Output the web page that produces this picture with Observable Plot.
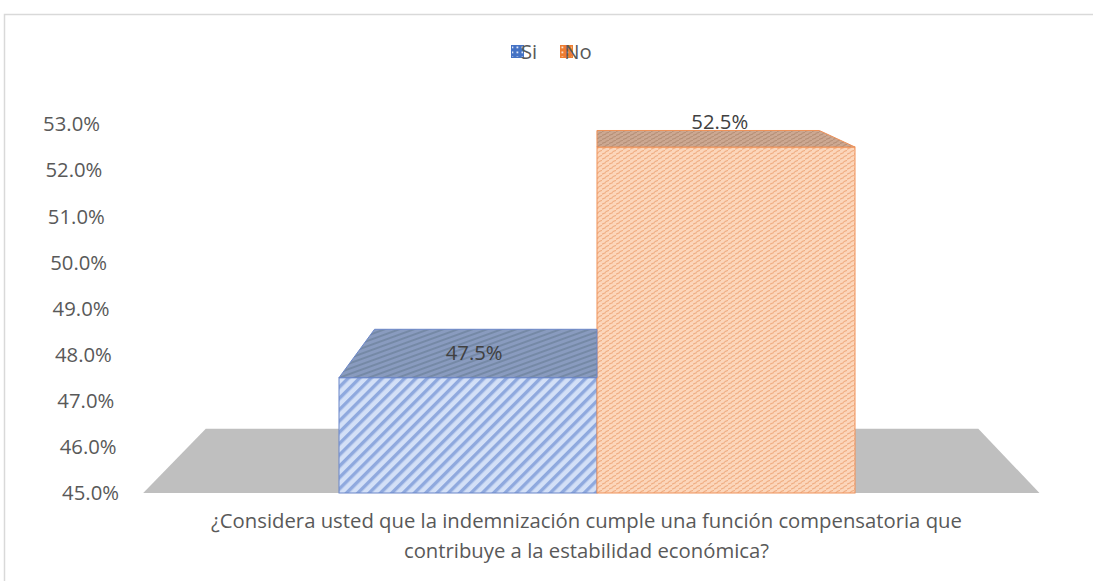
<!DOCTYPE html>
<html><head><meta charset="utf-8">
<script src="https://cdn.jsdelivr.net/npm/d3@7"></script>
<script src="https://cdn.jsdelivr.net/npm/@observablehq/plot@0.6"></script>
<style>html,body{margin:0;padding:0;background:#fff;overflow:hidden;}</style>
</head><body><div id="chart"></div>
<script>
// ---- data ----
const categories = ["Si", "No"];
const values = [47.5, 52.5];
const yDomain = [45, 53];
const yTicks = [45, 46, 47, 48, 49, 50, 51, 52, 53];
const legendLabels = ["Si", "No"];
const captionLines = [
  "¿Considera usted que la indemnización cumple una función compensatoria que",
  "contribuye a la estabilidad económica?"
];

// ---- styles ----
const FONT = "'Open Sans', sans-serif";
const FS = 20.3;
const frontFill = ["url(#siFront)", "url(#noFront)"];
const topFill = ["url(#siTop)", "url(#noTop)"];
const strokes = ["#6a86c8", "#ef9158"];
const legendFill = ["url(#siLeg)", "url(#noLeg)"];
const legendStroke = ["#4472c4", "#ed7d31"];
const ratio = 0.862;      // perspective shrink of back edges
const vpRise = 97;        // vanishing point above top of frame

const data = categories.map((c, i) => ({cat: c, value: values[i], i}));

function defsMark(index, scales, values, dim, ctx) {
  const g = d3.create("svg:g");
  const defs = g.append("defs");
  let p = defs.append("pattern").attr("id", "siFront").attr("patternUnits", "userSpaceOnUse")
    .attr("width", 8).attr("height", 8).attr("patternTransform", "rotate(45)");
  p.append("rect").attr("width", 8).attr("height", 8).attr("fill", "#d3e0f7");
  p.append("rect").attr("width", 3.4).attr("height", 8).attr("fill", "#8fa9de");
  p = defs.append("pattern").attr("id", "siTop").attr("patternUnits", "userSpaceOnUse")
    .attr("width", 5).attr("height", 5).attr("patternTransform", "rotate(70)");
  p.append("rect").attr("width", 5).attr("height", 5).attr("fill", "#899bbf");
  p.append("rect").attr("width", 2).attr("height", 5).attr("fill", "#7589a6");
  p = defs.append("pattern").attr("id", "noFront").attr("patternUnits", "userSpaceOnUse")
    .attr("width", 7).attr("height", 5);
  p.append("rect").attr("width", 7).attr("height", 5).attr("fill", "#fcd6bb");
  p.append("path").attr("d", "M0,4.2 L4,2.6 M3.5,1.7 L7,0.3").attr("stroke", "#f0ad82").attr("stroke-width", 1.1);
  p = defs.append("pattern").attr("id", "noTop").attr("patternUnits", "userSpaceOnUse")
    .attr("width", 7).attr("height", 4);
  p.append("rect").attr("width", 7).attr("height", 4).attr("fill", "#cca892");
  p.append("path").attr("d", "M0,3.4 L4,2 M3.5,1.4 L7,0.2").attr("stroke", "#b58f77").attr("stroke-width", 1.1);
  p = defs.append("pattern").attr("id", "siLeg").attr("patternUnits", "userSpaceOnUse")
    .attr("width", 5).attr("height", 5);
  p.append("rect").attr("width", 5).attr("height", 5).attr("fill", "#4472c4");
  p.append("rect").attr("x", 1.5).attr("y", 1.5).attr("width", 1.8).attr("height", 1.8).attr("fill", "#dfe7f7");
  p = defs.append("pattern").attr("id", "noLeg").attr("patternUnits", "userSpaceOnUse")
    .attr("width", 5).attr("height", 5);
  p.append("rect").attr("width", 5).attr("height", 5).attr("fill", "#ed7d31");
  p.append("rect").attr("x", 1.5).attr("y", 1.5).attr("width", 1.8).attr("height", 1.8).attr("fill", "#fbe3d3");
  g.append("rect").attr("x", 4.5).attr("y", 14.5).attr("width", dim.width + 10).attr("height", dim.height + 10)
    .attr("fill", "none").attr("stroke", "#d9d9d9").attr("stroke-width", 1.5);
  return g.node();
}

function geom(scales, dim) {
  const [r0, r1] = scales.x.range();
  const vx = (r0 + r1) / 2;
  const vy = dim.marginTop - vpRise;
  const proj = (px, py) => [vx + (px - vx) * ratio, vy + (py - vy) * ratio];
  const bw = scales.x.bandwidth ? scales.x.bandwidth() : (r1 - r0) / categories.length;
  return {r0, r1, vx, vy, proj, bw};
}

function floorMark(index, scales, values, dim) {
  const {r0, r1, proj, bw} = geom(scales, dim);
  const yb = scales.y(yDomain[0]);
  const fl = [r0 - bw * 0.755, yb], fr = [r1 + bw * 0.715, yb];
  const pts = [fl, fr, proj(...fr), proj(...fl)];
  const g = d3.create("svg:g");
  g.append("polygon").attr("points", pts.map(p => p.join(",")).join(" ")).attr("fill", "#bfbfbf");
  return g.node();
}

function topsMark(index, scales, values, dim) {
  const {proj, bw} = geom(scales, dim);
  const g = d3.create("svg:g");
  for (const d of data) {
    const xl = scales.x(d.cat), xr = xl + bw, yt = scales.y(d.value);
    const pts = [[xl, yt], [xr, yt], proj(xr, yt), proj(xl, yt)];
    g.append("polygon").attr("points", pts.map(p => p.join(",")).join(" "))
      .attr("fill", topFill[d.i]).attr("stroke", strokes[d.i]).attr("stroke-width", 1);
  }
  for (const d of data) {
    const xl = scales.x(d.cat), xr = xl + bw, yt = scales.y(d.value);
    const fc = (xl + xr) / 2;
    const bl = proj(xl, yt), br = proj(xr, yt);
    const bc = (bl[0] + br[0]) / 2;
    g.append("text").attr("x", fc + 0.35 * (bc - fc)).attr("y", yt - 25).attr("dy", "0.35em")
      .attr("text-anchor", "middle").attr("fill", "#404040")
      .attr("font-family", FONT).attr("font-size", FS)
      .text(d.value.toFixed(1) + "%");
  }
  return g.node();
}

function axisMark(index, scales, values, dim) {
  const g = d3.create("svg:g");
  const top = scales.y(yDomain[1]);
  for (const t of yTicks) {
    const yy = scales.y(t);
    g.append("text").attr("x", dim.marginLeft - 238 + (yy - top) * 0.0515).attr("y", yy).attr("dy", "0.36em")
      .attr("text-anchor", "end").attr("fill", "#595959")
      .attr("font-family", FONT).attr("font-size", FS)
      .text(t.toFixed(1) + "%");
  }
  return g.node();
}

function legendMark(index, scales, values, dim) {
  const g = d3.create("svg:g");
  const offsets = [511, 560];
  legendLabels.forEach((lab, i) => {
    g.append("rect").attr("x", offsets[i] + 0.5).attr("y", 45.5).attr("width", 12).attr("height", 12)
      .attr("fill", legendFill[i]).attr("stroke", legendStroke[i]).attr("stroke-width", 1);
    g.append("text").attr("x", offsets[i] + 18).attr("y", 52).attr("dy", "0.36em")
      .attr("fill", "#595959").attr("font-family", FONT).attr("font-size", FS).text(lab);
  });
  return g.node();
}

function captionMark(index, scales, values, dim) {
  const g = d3.create("svg:g");
  const [r0, r1] = scales.x.range();
  const cx = (r0 + r1) / 2 - 10;
  captionLines.forEach((line, i) => {
    g.append("text").attr("x", cx).attr("y", dim.height - dim.marginBottom + 28 + i * 30).attr("dy", "0.36em")
      .attr("text-anchor", "middle").attr("fill", "#595959")
      .attr("font-family", FONT).attr("font-size", FS).text(line);
  });
  return g.node();
}

const chart = Plot.plot({
  width: 1093,
  height: 581,
  marginLeft: 338,
  marginRight: 238,
  marginTop: 124,
  marginBottom: 88,
  style: {background: "#fff", fontFamily: FONT},
  x: {domain: categories, padding: 0, axis: null},
  y: {domain: yDomain, axis: null},
  marks: [
    defsMark,
    floorMark,
    Plot.barY(data, {filter: d => d.i === 0, x: "cat", y1: yDomain[0], y2: "value", fill: frontFill[0], stroke: strokes[0], strokeWidth: 1}),
    Plot.barY(data, {filter: d => d.i === 1, x: "cat", y1: yDomain[0], y2: "value", fill: frontFill[1], stroke: strokes[1], strokeWidth: 1}),
    topsMark,
    axisMark,
    legendMark,
    captionMark
  ]
});
document.getElementById("chart").appendChild(chart);
</script>
</body></html>
